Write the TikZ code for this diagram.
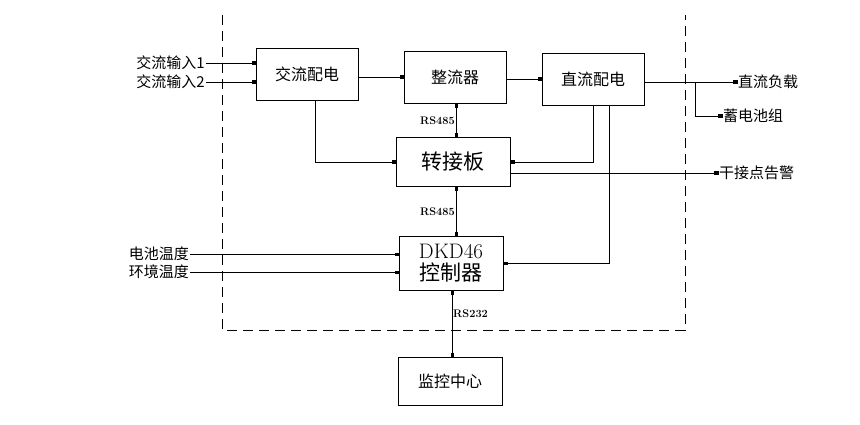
\documentclass[tikz,border=0pt]{standalone}
\usepackage{fontspec}
\newfontfamily\cjk{Noto Sans CJK SC}
\usetikzlibrary{arrows.meta, positioning}

\begin{document}
\begin{tikzpicture}[x=1pt, y=-1pt, >={Square[length=4pt,width=3pt]},
    box/.style={draw, thick, minimum width=102pt, minimum height=52pt, font=\cjk\fontsize{16}{18}\selectfont},
    lab/.style={font=\cjk\fontsize{15}{17}\selectfont, inner sep=1pt},
    bus/.style={font=\bfseries\fontsize{11}{12}\selectfont, inner sep=1pt}]

        \useasboundingbox (0,0) rectangle (860,425);
        \draw[thick, dash pattern=on 10pt off 6pt] (222,15) -- (222,330) -- (685,330) -- (685,15);

        % blocks
        \node[box] (acd) at (307,74) {交流配电};
        \node[box] (rect) at (455,77) {整流器};
        \node[box] (dcd) at (593,79) {直流配电};
        \node[box, minimum width=114pt, minimum height=49pt, font=\cjk\fontsize{21}{23}\selectfont] (adp) at (453,162) {转接板};
        \node[box, minimum width=104pt, minimum height=54pt, align=center, inner sep=1pt, font=\fontsize{21}{22}\selectfont] (ctl) at (451,263) {DKD46\\{\cjk 控制器}};
        \node[box, minimum width=104pt, minimum height=48pt] (mon) at (450,381) {监控中心};

        % labels outside
        \node[lab, anchor=east] (in1) at (206,63) {交流输入1};
        \node[lab, anchor=east] (in2) at (206,82) {交流输入2};
        \node[lab, anchor=west] (load) at (737,82) {直流负载};
        \node[lab, anchor=west] (bat) at (722,116) {蓄电池组};
        \node[lab, anchor=west] (alm) at (718,173) {干接点告警};
        \node[lab, anchor=east] (tb) at (190,254) {电池温度};
        \node[lab, anchor=east] (te) at (190,272) {环境温度};

        % power path
        \draw[->] (in1.east) -- (in1.east -| acd.west);
        \draw[->] (in2.east) -- (in2.east -| acd.west);
        \draw[->] (acd.east |- rect) -- (rect.west);
        \draw[->] (rect.east |- dcd) -- (dcd.west);
        \draw[->] (dcd.east |- load) -- (load.west);
        \draw[->] (695,82) |- (bat.west);

        % signals
        \draw[->] (acd.south -| 315,0) |- (adp.west);
        \draw[->] (dcd.south -| 593,0) |- (adp.east);
        \draw[->] (dcd.south -| 609,0) |- (ctl.east);
        \draw[->] (adp.east |- alm) -- (alm.west);
        \draw[->] (tb.east) -- (tb.east -| ctl.west);
        \draw[->] (te.east) -- (te.east -| ctl.west);

        % buses
        \draw[<->] (rect.south -| 456,0) -- (adp.north -| 456,0) node[midway, left, bus]{RS485};
        \draw[<->] (adp.south -| 456,0) -- (ctl.north -| 456,0) node[midway, left, bus]{RS485};
        \draw[<->] (ctl.south -| 452,0) -- (mon.north -| 452,0) node[pos=0.35, right, bus]{RS232};

\end{tikzpicture}
\end{document}
